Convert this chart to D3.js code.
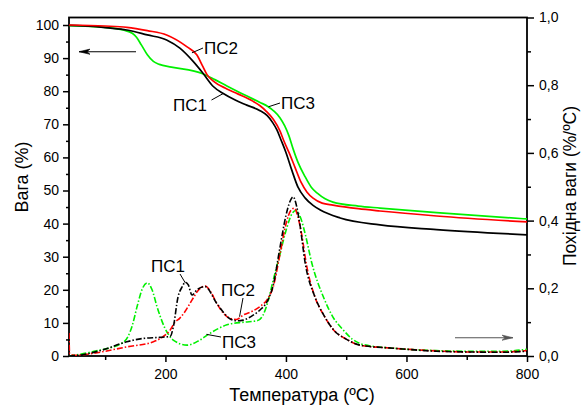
<!DOCTYPE html>
<html>
<head>
<meta charset="utf-8">
<script src="https://cdn.jsdelivr.net/npm/d3@7"></script>
<style>
  html, body { margin: 0; padding: 0; background: #fff; }
  svg { display: block; font-family: Arial, "Liberation Sans", sans-serif; }
</style>
</head>
<body>
<svg id="chart" width="583" height="405"></svg>
<script>
// Thermogravimetric curves: [temperature °C, weight %]
const tgPS1 = [[40,99.9],[80,99.6],[100,99.2],[136,98.5],[170,97],[202,95.5],[224,93],[246,89],[262,85.5],[279,81.5],[296,79.3],[315,77.4],[335,75.8],[357,74.1],[369,72.6],[378,70.5],[385,68.3],[392,65.2],[400,61.5],[410,56],[420,51],[432,47.7],[445,45.5],[457,44.1],[490,41.7],[556,39.6],[650,38.2],[800,36.6]];
const tgPS2 = [[40,100],[100,99.7],[136,99.3],[170,98.3],[202,97],[236,93.4],[252,91],[262,87.5],[269,85],[280,83],[302,80.7],[320,79.2],[345,77],[357,75.6],[367,74],[379,71.5],[390,68],[397,64.8],[405,61.5],[415,57],[425,52.5],[435,49.5],[445,47.7],[460,46.2],[478,45.6],[520,44.5],[556,43.8],[650,42.3],[800,40.5]];
const tgPS3 = [[40,99.8],[100,99.3],[130,98.5],[145,97.5],[152,96.3],[160,94],[170,91],[180,89],[190,88.1],[210,87.3],[262,85.3],[282,83.5],[302,81.6],[330,79],[357,76.6],[370,75.4],[380,74],[390,72],[398,69.5],[405,66.5],[412,62.5],[420,58.5],[432,54.1],[442,51],[452,49.2],[465,47.5],[478,46.5],[520,45.3],[556,44.7],[650,43.3],[800,41.4]];

// Derivative curves: [temperature °C, dW/dT %/°C]
const dtgPS1 = [[40,0.0],[60,0.003],[96,0.018],[136,0.042],[163,0.052],[190,0.055],[208,0.058],[213,0.085],[221,0.175],[228,0.205],[233,0.218],[238,0.21],[244,0.18],[252,0.195],[266,0.205],[285,0.156],[307,0.11],[318,0.104],[329,0.106],[345,0.12],[357,0.136],[370,0.165],[379,0.21],[390,0.32],[400,0.415],[407,0.458],[412,0.47],[418,0.44],[423,0.39],[432,0.274],[448,0.175],[463,0.12],[479,0.077],[500,0.05],[523,0.032],[578,0.023],[650,0.014],[700,0.012],[760,0.011],[800,0.014]];
const dtgPS2 = [[40,0.068],[41,0.006],[50,0.002],[80,0.008],[136,0.027],[180,0.042],[196,0.057],[208,0.077],[216,0.1],[224,0.112],[232,0.13],[244,0.165],[255,0.195],[266,0.207],[275,0.19],[285,0.156],[297,0.125],[307,0.111],[318,0.108],[329,0.121],[345,0.133],[357,0.146],[370,0.17],[379,0.205],[390,0.3],[400,0.39],[408,0.43],[414,0.437],[420,0.41],[426,0.36],[434,0.27],[448,0.175],[463,0.12],[479,0.077],[500,0.05],[523,0.032],[578,0.023],[650,0.015],[700,0.012],[760,0.012],[800,0.016]];
const dtgPS3 = [[40,0.0],[80,0.013],[130,0.04],[145,0.09],[153,0.146],[162,0.2],[170,0.216],[178,0.195],[186,0.146],[199,0.083],[213,0.047],[236,0.032],[257,0.047],[274,0.067],[302,0.092],[330,0.1],[352,0.104],[362,0.121],[370,0.16],[379,0.225],[390,0.3],[400,0.37],[410,0.42],[416,0.43],[424,0.41],[432,0.36],[443,0.274],[462,0.175],[478,0.115],[495,0.077],[510,0.05],[530,0.033],[578,0.023],[650,0.016],[700,0.014],[760,0.014],[800,0.02]];

// Axis ticks
const xMajor = [200, 400, 600, 800];
const xMinor = [100, 300, 500, 700];
const wMajor = [0, 10, 20, 30, 40, 50, 60, 70, 80, 90, 100];
const wMinor = [5, 15, 25, 35, 45, 55, 65, 75, 85, 95];
const dMajor = [0, 0.2, 0.4, 0.6, 0.8, 1.0];
const dMinor = [0.1, 0.3, 0.5, 0.7, 0.9];

const seriesNames = ["ПС1", "ПС2", "ПС3"];
const colors = ["#000000", "#ff0000", "#00f000"];

const L = 69, R = 527, T = 17.5, B = 356;
const svg = d3.select("#chart");

const x = d3.scaleLinear().domain([40, 800]).range([L, R]);
const yW = d3.scaleLinear().domain([0, 102.27]).range([B, T]);
const yD = d3.scaleLinear().domain([0, 1]).range([B, T]);

const comma = v => d3.format(".1f")(v).replace(".", ",");

function styleAxis(g) {
  g.select(".domain").remove();
  g.selectAll("line").attr("stroke", "#000").attr("stroke-width", 1.5);
  g.selectAll("text").attr("font-size", 14).attr("fill", "#000");
}

// bottom axis
svg.append("g").attr("transform", `translate(0,${B})`)
  .call(d3.axisBottom(x).tickValues(xMajor).tickSize(6).tickPadding(7))
  .call(styleAxis);
svg.append("g").attr("transform", `translate(0,${B})`)
  .call(d3.axisBottom(x).tickValues(xMinor).tickSize(4).tickFormat(""))
  .call(styleAxis);

// left axis
svg.append("g").attr("transform", `translate(${L},0)`)
  .call(d3.axisLeft(yW).tickValues(wMajor).tickSize(6).tickPadding(4))
  .call(styleAxis);
svg.append("g").attr("transform", `translate(${L},0)`)
  .call(d3.axisLeft(yW).tickValues(wMinor).tickSize(3).tickFormat(""))
  .call(styleAxis);

// right axis
svg.append("g").attr("transform", `translate(${R},0)`)
  .call(d3.axisRight(yD).tickValues(dMajor).tickSize(7).tickPadding(5).tickFormat(comma))
  .call(styleAxis);
svg.append("g").attr("transform", `translate(${R},0)`)
  .call(d3.axisRight(yD).tickValues(dMinor).tickSize(4).tickFormat(""))
  .call(styleAxis);

// frame
svg.append("rect").attr("x", L).attr("y", T).attr("width", R - L).attr("height", B - T)
  .attr("fill", "none").attr("stroke", "#000").attr("stroke-width", 1.8);

const plot = svg.append("g");
plot.append("clipPath").attr("id", "clip").append("rect")
  .attr("x", L).attr("y", T).attr("width", R - L).attr("height", B - T);
const area = plot.append("g").attr("clip-path", "url(#clip)");

const lineW = d3.line().x(d => x(d[0])).y(d => yW(d[1])).curve(d3.curveMonotoneX);
const lineD = d3.line().x(d => x(d[0])).y(d => yD(d[1])).curve(d3.curveMonotoneX);

// derivative curves (dash-dot), drawn under the weight curves
[dtgPS3, dtgPS2, dtgPS1].forEach((s, i) => {
  const idx = 2 - i;
  area.append("path").datum(s).attr("d", lineD)
    .attr("fill", "none").attr("stroke", colors[idx]).attr("stroke-width", 1.6)
    .attr("stroke-dasharray", "6,2,1.5,2");
});
// weight curves
[tgPS3, tgPS1, tgPS2].forEach((s, i) => {
  const idx = [2, 0, 1][i];
  area.append("path").datum(s).attr("d", lineW)
    .attr("fill", "none").attr("stroke", colors[idx]).attr("stroke-width", 1.7);
});

// series labels with leader lines
function label(txt, tx, ty, x1, y1, x2, y2) {
  svg.append("line").attr("x1", x1).attr("y1", y1).attr("x2", x2).attr("y2", y2)
    .attr("stroke", "#000").attr("stroke-width", 1);
  svg.append("text").attr("x", tx).attr("y", ty).attr("font-size", 17).attr("fill", "#000").text(txt);
}
// weight curves
label(seriesNames[1], 204, 53.5, x(244), yW(91.6), 203, 48);
label(seriesNames[0], 173, 110.5, 211.5, 100, x(296), yW(79.3));
label(seriesNames[2], 281, 108.5, x(371), yW(75.3), 280, 103);
// derivative curves
label(seriesNames[0], 151, 272, 180, 274, x(233), yD(0.216));
label(seriesNames[1], 221, 296, 243, 298, x(323), yD(0.116));
label(seriesNames[2], 222, 348, x(268), yD(0.064), 221, 337);

// direction arrows
function arrow(x1, x2, y, color, dir) {
  svg.append("line").attr("x1", x1).attr("y1", y).attr("x2", x2).attr("y2", y)
    .attr("stroke", color).attr("stroke-width", 1.1);
  const tip = dir < 0 ? x1 : x2;
  const back = tip - dir * 11;
  svg.append("path")
    .attr("d", `M${tip},${y} L${back},${y - 2.6} L${back + dir * 3},${y} L${back},${y + 2.6} Z`)
    .attr("fill", color).attr("stroke", color).attr("stroke-width", 0.6);
}
arrow(79, 136, 51.7, "#000", -1);
arrow(455, 513, 337.7, "#555", 1);

// axis titles
svg.append("text").attr("transform", `translate(28,177) rotate(-90)`)
  .attr("text-anchor", "middle").attr("font-size", 18).text("Вага (%)");
svg.append("text").attr("transform", `translate(576,186) rotate(-90)`)
  .attr("text-anchor", "middle").attr("font-size", 17.5).text("Похідна ваги (%/ºC)");
svg.append("text").attr("x", 302).attr("y", 401)
  .attr("text-anchor", "middle").attr("font-size", 18).text("Температура (ºC)");
</script>
</body>
</html>
